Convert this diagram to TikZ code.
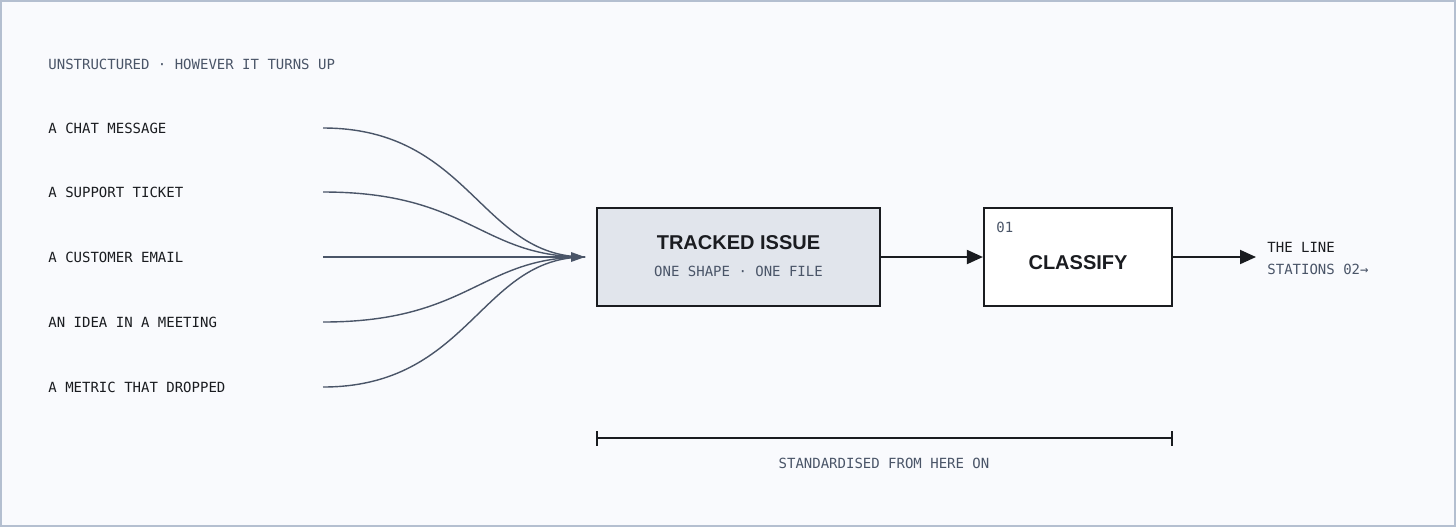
\documentclass[tikz,border=0pt]{standalone}
\usepackage{fontspec}
\setmainfont{Liberation Sans}
\newfontfamily\monofont{DejaVu Sans Mono}
\usetikzlibrary{arrows.meta}
\definecolor{paper}{HTML}{F9FAFD}
\definecolor{frame}{HTML}{B4BFD0}
\definecolor{ink}{HTML}{1A1C20}
\definecolor{slate}{HTML}{4A5568}
\definecolor{boxfill}{HTML}{E1E5EC}
\tikzset{>={Triangle[length=8pt,width=7pt]},
  mono/.style={font=\monofont\fontsize{7}{8}\selectfont,text=ink,inner sep=0pt},
  monogray/.style={mono,text=slate},
  source/.style={mono,anchor=west},
  feed/.style={slate,line width=0.7pt},
  station/.style={draw=ink,line width=1.1pt,minimum height=49pt},
  flow/.style={->,ink,line width=1pt}}

\begin{document}
\begin{tikzpicture}[x=0.5pt,y=-0.5pt]
      \fill[paper,draw=frame,line width=0.8pt] (1,1) rectangle (1455,526);
      \useasboundingbox (0,0) rectangle (1456,527);
        \node[monogray,anchor=west] (head) at (48,64) {UNSTRUCTURED · HOWEVER IT TURNS UP};
        \node[source] (s1) at (48,128) {A CHAT MESSAGE};
        \node[source] (s2) at (48,192) {A SUPPORT TICKET};
        \node[source] (s3) at (48,257) {A CUSTOMER EMAIL};
        \node[source] (s4) at (48,322) {AN IDEA IN A MEETING};
        \node[source] (s5) at (48,387) {A METRIC THAT DROPPED};
      \coordinate (hub) at (585,257);
      \foreach \y/\n in {128/1,192/2,257/3,322/4,387/5}{
        \coordinate (e\n) at (323,\y);
        \draw[feed] (e\n) .. controls (470,\y) and (480,257) .. (hub);
      }
      \fill[slate] (hub) -- ++(-14,-5) -- ++(0,10) -- cycle;
      \node[station,fill=boxfill,minimum width=141.5pt] (issue) at (738.5,257) {};
      \node[font=\bfseries\fontsize{10}{12}\selectfont,text=ink] at (738.5,243) {TRACKED ISSUE};
      \node[monogray] at (738.5,271) {ONE SHAPE · ONE FILE};
      \node[station,fill=white,minimum width=94pt] (cls) at (1078,257) {};
      \node[mono,text=slate,anchor=west] at (996,227) {01};
      \node[font=\bfseries\fontsize{10}{12}\selectfont,text=ink] at (1078,263) {CLASSIFY};
      \draw[flow] (issue.east) -- (cls.west);
      \coordinate (out) at (1256,257);
      \draw[flow] (cls.east) -- (out);
      \node[mono,anchor=west] (line) at (1267,247) {THE LINE};
      \node[monogray,anchor=west] at (1267,269) {STATIONS 02→};
      \coordinate (bl) at (597,438);
      \coordinate (br) at (1172,438);
      \draw[ink,line width=0.7pt] (bl) -- (br);
      \draw[ink,line width=0.7pt] (597,431) -- (597,446) (1172,431) -- (1172,446);
      \node[monogray] at (884,463) {STANDARDISED FROM HERE ON};
       \end{tikzpicture}
\end{document}
